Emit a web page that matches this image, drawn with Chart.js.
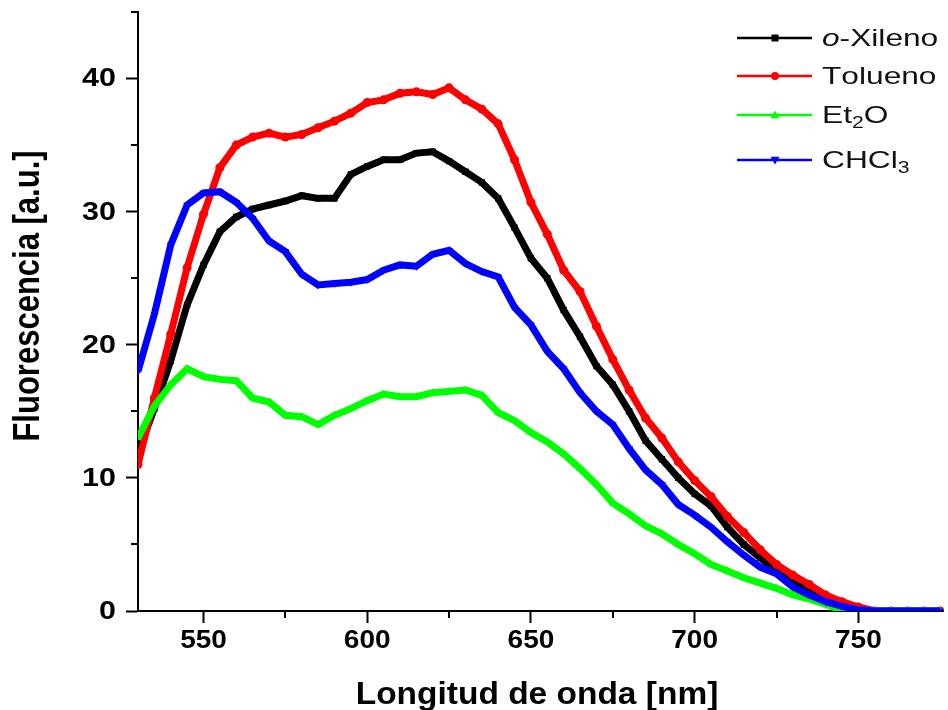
<!DOCTYPE html>
<html>
<head>
<meta charset="utf-8">
<script src="https://cdn.jsdelivr.net/npm/chart.js@4/dist/chart.umd.min.js"></script>
<style>
  html, body { margin: 0; padding: 0; background: #fff; }
  #c { display: block; }
</style>
</head>
<body>
<canvas id="c" width="948" height="710"></canvas>
<script>
// ---- data ----
const wavelengths = [530,535,540,545,550,555,560,565,570,575,580,585,590,595,600,605,610,615,620,625,630,635,640,645,650,655,660,665,670,675,680,685,690,695,700,705,710,715,720,725,730,735,740,745,750,755,760,765,770,775];

const oXileno = [11.9,15.2,18.8,23.0,26.0,28.5,29.6,30.2,30.5,30.8,31.2,31.0,31.0,32.8,33.4,33.9,33.9,34.4,34.5,33.8,33.0,32.2,31.0,28.8,26.5,25.0,22.6,20.6,18.4,17.0,15.0,12.8,11.4,10.0,8.8,7.9,6.3,5.0,4.0,3.0,2.1,1.5,0.8,0.35,0.1,0,0,0,0,0];

const tolueno = [11.0,16.0,20.8,25.8,29.8,33.3,35.0,35.6,35.9,35.6,35.8,36.3,36.8,37.4,38.2,38.4,38.9,39.0,38.8,39.3,38.4,37.7,36.6,33.9,30.7,28.3,25.6,24.0,21.4,18.9,16.6,14.5,13.0,11.2,9.8,8.6,7.1,5.9,4.6,3.5,2.7,2.0,1.2,0.7,0.3,0,0,0,0,0];

const et2o = [13.0,15.4,17.0,18.2,17.6,17.4,17.3,16.0,15.7,14.7,14.6,14.0,14.7,15.2,15.8,16.3,16.1,16.1,16.4,16.5,16.6,16.2,14.9,14.3,13.4,12.7,11.8,10.7,9.5,8.1,7.3,6.4,5.8,5.0,4.3,3.5,3.0,2.5,2.1,1.7,1.2,0.9,0.5,0.05,0,0,0,0,0,0];

const chcl3 = [18.0,22.3,27.5,30.5,31.4,31.5,30.7,29.5,27.8,27.0,25.3,24.5,24.6,24.7,24.9,25.6,26.0,25.9,26.8,27.1,26.1,25.5,25.1,22.8,21.5,19.5,18.2,16.4,15.0,14.0,12.2,10.6,9.5,8.0,7.2,6.3,5.2,4.2,3.3,2.8,1.8,1.2,0.7,0.35,0.1,0,0,0,0,0];

const seriesNames = ['o-Xileno', 'Tolueno', 'Et2O', 'CHCl3'];
const xMajorTicks = [550, 600, 650, 700, 750];
const xMinorTicks = [575, 625, 675, 725];
const yMajorTicks = [0, 10, 20, 30, 40];
const yMinorTicks = [5, 15, 25, 35, 45];
const xTitle = 'Longitud de onda [nm]';
const yTitle = 'Fluorescencia [a.u.]';

// ---- styling ----
const FONT = '"Liberation Sans", Arial, Helvetica, sans-serif';
const colors = ['#000000', '#ff0000', '#00ff00', '#0000ff'];
const pointStyles = ['rect', 'circle', 'triangle', 'triangle'];
const pointRotations = [0, 0, 0, 180];
const seriesValues = [oXileno, tolueno, et2o, chcl3];

function toXY(vals) { return wavelengths.map((w, i) => ({ x: w, y: vals[i] })); }

const datasets = seriesValues.map((vals, i) => ({
  label: seriesNames[i],
  data: toXY(vals),
  borderColor: colors[i],
  backgroundColor: colors[i],
  borderWidth: 7,
  pointStyle: pointStyles[i],
  rotation: pointRotations[i],
  pointRadius: 4.5,
  pointBorderWidth: 0,
  pointBackgroundColor: colors[i],
  tension: 0,
  order: 4 - i
}));

// text drawn with a horizontal stretch (the reference lettering is wide)
function stretchText(ctx, text, x, y, sx, align) {
  ctx.save();
  ctx.translate(x, y);
  ctx.scale(sx, 1);
  ctx.textAlign = align || 'left';
  ctx.fillText(text, 0, 0);
  ctx.restore();
}

// label with italic "o" prefix and digits as subscripts
function drawRich(ctx, text, x, y, size, sx) {
  let cx = x;
  let i = 0;
  ctx.textAlign = 'left';
  if (text.startsWith('o-')) {
    ctx.font = 'italic ' + size + 'px ' + FONT;
    stretchText(ctx, 'o', cx, y, sx);
    cx += ctx.measureText('o').width * sx;
    i = 1;
  }
  for (; i < text.length; i++) {
    const ch = text[i];
    if (/[0-9]/.test(ch)) {
      const s = Math.round(size * 0.68);
      ctx.font = s + 'px ' + FONT;
      stretchText(ctx, ch, cx, y + size * 0.32, sx);
      cx += ctx.measureText(ch).width * sx;
    } else {
      ctx.font = size + 'px ' + FONT;
      stretchText(ctx, ch, cx, y, sx);
      cx += ctx.measureText(ch).width * sx;
    }
  }
}

const decorPlugin = {
  id: 'decor',
  afterDraw(chart) {
    const ctx = chart.ctx;
    const xs = chart.scales.x, ys = chart.scales.y;
    const area = chart.chartArea;
    ctx.save();
    // minor ticks
    ctx.strokeStyle = '#000';
    ctx.lineWidth = 2;
    xMinorTicks.forEach(v => {
      const px = Math.round(xs.getPixelForValue(v));
      ctx.beginPath(); ctx.moveTo(px, area.bottom); ctx.lineTo(px, area.bottom + 7); ctx.stroke();
    });
    yMinorTicks.forEach(v => {
      const py = Math.round(ys.getPixelForValue(v));
      ctx.beginPath(); ctx.moveTo(area.left, py); ctx.lineTo(area.left - 7, py); ctx.stroke();
    });
    // tick labels (from the scales' own ticks)
    ctx.fillStyle = '#000';
    ctx.font = 'bold 25px ' + FONT;
    ctx.textBaseline = 'middle';
    xs.ticks.forEach(t => {
      stretchText(ctx, String(t.value), xs.getPixelForValue(t.value), 641, 1.12, 'center');
    });
    ys.ticks.forEach(t => {
      stretchText(ctx, String(t.value), 116, ys.getPixelForValue(t.value) + 1, 1.22, 'right');
    });
    // axis titles
    ctx.font = 'bold 31px ' + FONT;
    ctx.textBaseline = 'alphabetic';
    stretchText(ctx, xTitle, 537, 704, 1.08, 'center');
    ctx.save();
    ctx.translate(39, 296);
    ctx.rotate(-Math.PI / 2);
    ctx.scale(1, 1.2);
    ctx.textAlign = 'center';
    ctx.fillText(yTitle, 0, 0);
    ctx.restore();
    // legend
    const rowsY = [38, 76, 115, 160];
    chart.data.datasets.forEach((ds, i) => {
      const y = rowsY[i];
      ctx.strokeStyle = ds.borderColor;
      ctx.lineWidth = 2.5;
      ctx.beginPath(); ctx.moveTo(737, y); ctx.lineTo(812, y); ctx.stroke();
      ctx.fillStyle = ds.borderColor;
      const mx = 775, r = 4.5;
      ctx.beginPath();
      if (pointStyles[i] === 'rect') {
        ctx.rect(mx - 3.5, y - 3.5, 7, 7);
      } else if (pointStyles[i] === 'circle') {
        ctx.arc(mx, y, 4, 0, Math.PI * 2);
      } else if (pointRotations[i] === 0) {
        ctx.moveTo(mx, y - r); ctx.lineTo(mx + r, y + r * 0.7); ctx.lineTo(mx - r, y + r * 0.7); ctx.closePath();
      } else {
        ctx.moveTo(mx, y + r); ctx.lineTo(mx + r, y - r * 0.7); ctx.lineTo(mx - r, y - r * 0.7); ctx.closePath();
      }
      ctx.fill();
      ctx.fillStyle = '#111';
      ctx.textBaseline = 'middle';
      drawRich(ctx, ds.label, 822, y + 1, 24, 1.32);
    });
    ctx.restore();
  }
};

function noPad(scale) {
  scale.paddingTop = 0; scale.paddingBottom = 0;
  scale.paddingLeft = 0; scale.paddingRight = 0;
}

new Chart(document.getElementById('c'), {
  type: 'line',
  data: { datasets },
  options: {
    responsive: false,
    devicePixelRatio: 1,
    animation: false,
    layout: { padding: { top: 12, right: 3, left: 0, bottom: 0 } },
    plugins: { legend: { display: false }, tooltip: { enabled: false } },
    scales: {
      x: {
        type: 'linear',
        min: 530,
        max: 776,
        afterBuildTicks(scale) { scale.ticks = xMajorTicks.map(v => ({ value: v })); },
        afterFit(scale) { scale.height = 99; noPad(scale); },
        border: { color: '#000', width: 2 },
        grid: { drawOnChartArea: false, drawTicks: true, tickLength: 12, tickColor: '#000', tickWidth: 2, color: '#000' },
        ticks: { display: false },
        title: { display: false }
      },
      y: {
        type: 'linear',
        min: 0,
        max: 45,
        afterBuildTicks(scale) { scale.ticks = yMajorTicks.map(v => ({ value: v })); },
        afterFit(scale) { scale.width = 138; noPad(scale); },
        border: { color: '#000', width: 2 },
        grid: { drawOnChartArea: false, drawTicks: true, tickLength: 12, tickColor: '#000', tickWidth: 2, color: '#000' },
        ticks: { display: false },
        title: { display: false }
      }
    }
  },
  plugins: [decorPlugin]
});
</script>
</body>
</html>
